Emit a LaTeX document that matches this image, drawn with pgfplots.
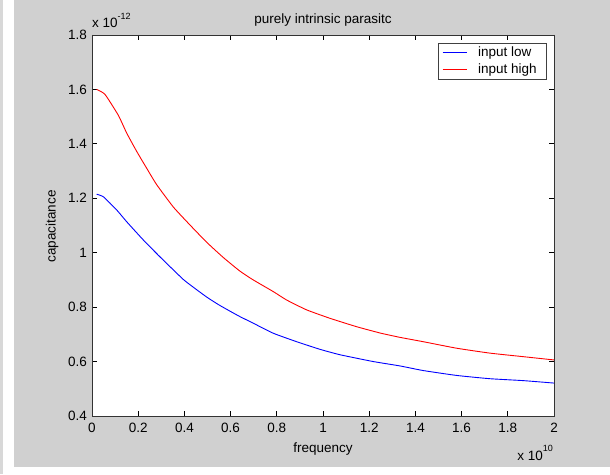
\documentclass[border=0pt]{standalone}
\usepackage{fontspec}
\setmainfont{Liberation Sans}
\usepackage{pgfplots}
\pgfplotsset{compat=1.18}
\definecolor{figgray}{RGB}{208,208,208}
\definecolor{stripgray}{RGB}{216,216,216}
\definecolor{mblue}{RGB}{0,0,255}
\definecolor{mred}{RGB}{255,0,0}
\newcommand\ff{\fontsize{13.5pt}{16pt}\selectfont}
\newcommand\msup[1]{\raisebox{8.5pt}{\fontsize{9pt}{9pt}\selectfont #1}}
\begin{document}
\begin{tikzpicture}[x=1pt,y=1pt]
\fill[stripgray] (0,0) rectangle (3,474);
\fill[white] (3,0) rectangle (14,474);
\fill[figgray] (14,7) rectangle (610,474);
\fill[white] (14,0) rectangle (610,7);
\path[use as bounding box] (0,0) rectangle (610,474);
\begin{axis}[
  at={(92pt,58pt)}, anchor=south west,
  scale only axis, width=462pt, height=381pt,
  xmin=0, xmax=2, ymin=0.4, ymax=1.8,
  axis background/.style={fill=white},
  axis line style={black!80, line width=0.8pt},
  tick align=inside, major tick length=5pt,
  tick style={black, line width=0.8pt},
  xtick={0,0.2,0.4,0.6,0.8,1,1.2,1.4,1.6,1.8,2},
  xticklabels={0,0.2,0.4,0.6,0.8,1,1.2,1.4,1.6,1.8,2},
  ytick={0.4,0.6,0.8,1,1.2,1.4,1.6,1.8},
  yticklabels={0.4,0.6,0.8,1,1.2,1.4,1.6,1.8},
  x tick label style={font=\ff, anchor=north, inner sep=0pt, yshift=-7pt},
  y tick label style={font=\ff, anchor=east, inner sep=0pt, xshift=-5pt},
  legend style={at={(1,1)}, anchor=north east, xshift=-7pt, yshift=-7.7pt,
    draw=black!75, line width=0.8pt, fill=white, font=\ff,
    inner xsep=4pt, inner ysep=2pt, row sep=1.5pt,
    /tikz/every odd column/.append style={column sep=8.5pt}},
  legend image code/.code={\draw[#1, line width=0.9pt] (0pt,0pt) -- (24.6pt,0pt);},
  legend cell align=left,
]
\addplot[mblue, line width=0.9pt, smooth, tension=0.3] coordinates {
(0.02,1.215) (0.05,1.205) (0.107,1.157) (0.15,1.114) (0.222,1.047)
(0.294,0.985) (0.395,0.902) (0.45,0.866) (0.5,0.835) (0.55,0.808)
(0.6,0.784) (0.641,0.765) (0.698,0.741) (0.785,0.704) (0.886,0.673)
(0.987,0.645) (1.074,0.625) (1.218,0.600) (1.333,0.584) (1.434,0.567)
(1.579,0.549) (1.723,0.537) (1.867,0.530) (2.0,0.521)
};
\addlegendentry{input low\hspace*{4pt}}
\addplot[mred, line width=0.9pt, smooth, tension=0.3] coordinates {
(0.02,1.600) (0.056,1.582) (0.114,1.505) (0.15,1.440) (0.193,1.373)
(0.237,1.310) (0.28,1.250) (0.352,1.168) (0.424,1.102) (0.497,1.038)
(0.569,0.982) (0.641,0.932) (0.698,0.900) (0.785,0.857) (0.843,0.826)
(0.929,0.790) (1.03,0.759) (1.146,0.728) (1.247,0.705) (1.333,0.689)
(1.434,0.673) (1.579,0.649) (1.723,0.631) (1.867,0.618) (2.0,0.606)
};
\addlegendentry{input high\hspace*{4pt}}
\end{axis}
\node[anchor=base, inner sep=0pt, font=\ff] at (323,450) {purely intrinsic parasitc};
\node[anchor=base west, inner sep=0pt, font=\ff] at (92,446) {x 10\msup{-12}};
\node[anchor=base, inner sep=0pt, font=\ff] at (323,22) {frequency};
\node[anchor=base east, inner sep=0pt, font=\ff] at (553,14) {x 10\msup{10}};
\node[anchor=base, rotate=90, inner sep=0pt, font=\ff] at (55.5,247.5) {capacitance};
\end{tikzpicture}
\end{document}
